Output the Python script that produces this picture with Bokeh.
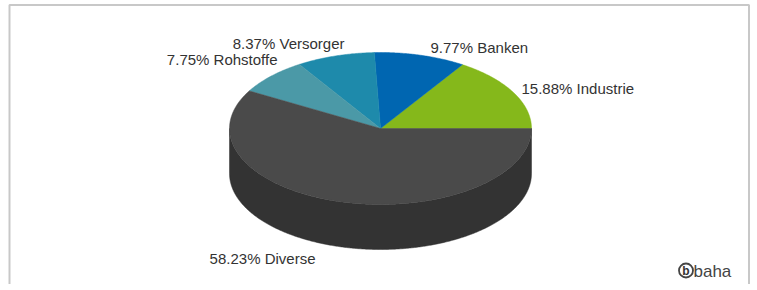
import math
from bokeh.plotting import figure
from bokeh.models import Range1d, ColumnDataSource
from bokeh.core.properties import value
from bokeh.embed import file_html
from bokeh.resources import INLINE

# ---- data ----
categories = ["Industrie", "Banken", "Versorger", "Rohstoffe", "Diverse"]
shares = [15.88, 9.77, 8.37, 7.75, 58.23]

# ---- styles ----
top_colors = ["#85b81b", "#0066b1", "#1e8aab", "#4b99a7", "#4a4a4a"]
side_colors = ["#5d8113", "#00487c", "#156178", "#356b75", "#333333"]

# ---- layout (screen pixels) ----
W, H = 750, 284
X0, Y0 = 0, 0
CX, CY, RX, RY, DEPTH = 380, 128, 151, 76, 45
label_x = [521, 430, 344, 277, 315]
label_y = [87.5, 47, 43, 59, 257.5]
label_align = ["left", "left", "right", "right", "right"]
FONT = "Liberation Sans"

p = figure(width=W, height=H, x_range=Range1d(X0, X0 + W), y_range=Range1d(Y0 + H, Y0),
           output_backend="svg", toolbar_location=None, min_border=0,
           x_axis_location=None, y_axis_location=None)
p.grid.visible = False
p.outline_line_color = None
p.background_fill_color = "white"
p.border_fill_color = "white"


def pt(t_deg, dy=0.0):
    t = math.radians(t_deg)
    return CX + RX * math.cos(t), CY - RY * math.sin(t) + dy


def arc(a0, a1, dy=0.0):
    n = max(2, int(abs(a1 - a0) * 2) + 1)
    return [pt(a0 + (a1 - a0) * i / (n - 1), dy) for i in range(n)]


total = sum(shares)
starts, ends = [], []
acc = 0.0
for s in shares:
    starts.append(acc / total * 360.0)
    acc += s
    ends.append(acc / total * 360.0)

# side walls (front half: 180..360 degrees)
side_xs, side_ys, side_fill = [], [], []
for a0, a1, c in zip(starts, ends, side_colors):
    lo, hi = max(a0, 180.0), min(a1, 360.0)
    if hi > lo:
        top = arc(lo, hi)
        bot = arc(hi, lo, DEPTH)
        pts = top + bot
        side_xs.append([q[0] for q in pts])
        side_ys.append([q[1] for q in pts])
        side_fill.append(c)
p.patches(xs="xs", ys="ys", fill_color="c", line_color="c", line_width=0.5,
          source=ColumnDataSource(dict(xs=side_xs, ys=side_ys, c=side_fill)))

# top faces
top_xs, top_ys = [], []
for a0, a1 in zip(starts, ends):
    pts = [(CX, CY)] + arc(a0, a1)
    top_xs.append([q[0] for q in pts])
    top_ys.append([q[1] for q in pts])
p.patches(xs="xs", ys="ys", fill_color="c", line_color="c", line_width=0.5,
          source=ColumnDataSource(dict(xs=top_xs, ys=top_ys, c=top_colors, name=categories)))

# data labels
labels = [f"{s:.2f}% {c}" for s, c in zip(shares, categories)]
for lx, ly, la, txt in zip(label_x, label_y, label_align, labels):
    p.text(x=[lx], y=[ly], text=[txt], text_align=la, text_baseline="middle",
           text_font=value(FONT), text_font_size="15px", text_color="#333333")

# frame border
p.line(x=[9, 9, 748.5, 748.5], y=[Y0 + H, 4.5, 4.5, Y0 + H], line_color="#c8c8c8", line_width=2)

# logo
p.circle(x=[685.5], y=[270], radius=7, fill_color=None, line_color="#444444", line_width=1.8)
p.text(x=[685.5], y=[270.5], text=["b"], text_align="center", text_baseline="middle",
       text_font=value(FONT), text_font_size="12px", text_font_style="bold", text_color="#333333")
p.text(x=[693], y=[271], text=["baha"], text_align="left", text_baseline="middle",
       text_font=value(FONT), text_font_size="17px", text_color="#444444")

open("out.html", "w").write(file_html(p, INLINE))
